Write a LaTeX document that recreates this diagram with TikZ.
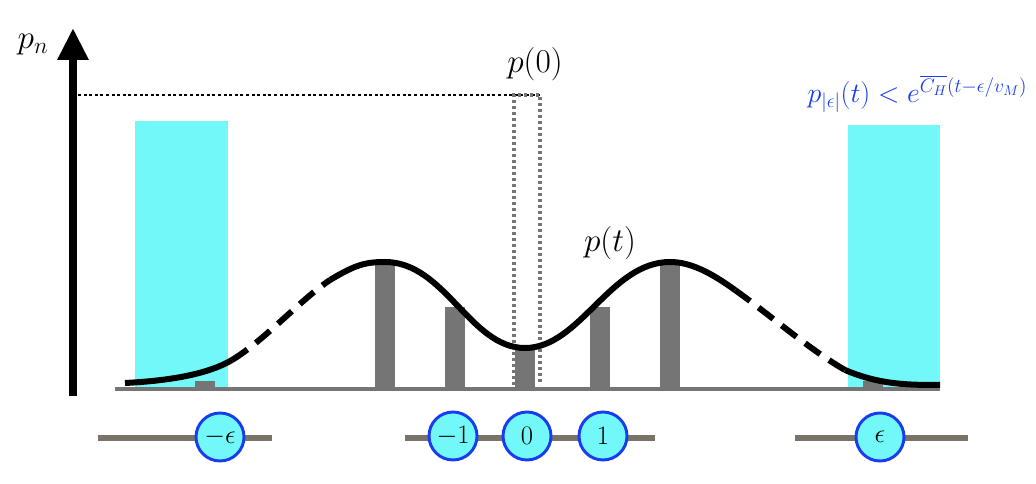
\RequirePackage{fix-cm}
\documentclass[tikz,border=0pt]{standalone}
\usepackage{amsmath}
\usetikzlibrary{arrows.meta}
\definecolor{cy}{HTML}{72F8F8}
\definecolor{bl}{HTML}{1A3CF0}
\definecolor{gr}{HTML}{757575}
\definecolor{ln}{HTML}{7A7468}
\begin{document}
\begin{tikzpicture}[x=0.75pt,y=-0.75pt,
  site/.style={circle,draw=bl,line width=2.2pt,fill=cy,minimum width=36pt,inner sep=0pt,font=\fontsize{20}{20}\selectfont},
  bar/.style={fill=gr},
  curve/.style={line width=4.5pt,black},
  lbl/.style={font=\fontsize{25}{25}\selectfont}]
\useasboundingbox (0,0) rectangle (1036,484);
% cyan regions
\fill[cy] (135,121) rectangle (228,388);
\fill[cy] (848,125) rectangle (940,388);
% bars
\foreach \a/\t in {375/262,445/307,515/345,590/307,660/262,195/381,863/381}
  \fill[gr] (\a,\t) rectangle ++(20,389-\t);
\draw[gr,line width=3pt] (115,389) -- (940,389);
% dotted
\coordinate (d0) at (78,95); \coordinate (d1) at (540,95);
\draw[black,dotted,line width=2.2pt] (d0) -- (d1);
\draw[gr,dotted,line width=2.5pt] (514,385) -- (514,95) -- (540,95) -- (540,385);
% axis
\coordinate (ax0) at (73,396); \coordinate (ax1) at (73,28);
\draw[line width=6pt,-{Triangle[length=24pt,width=22pt]}] (ax0) -- (ax1);
\node[lbl] (pn) at (33,45) {$p_n$};
\node[lbl] (p0) at (535,64) {$p(0)$};
\node[lbl] (pt) at (610,243) {$p(t)$};
\node[font=\fontsize{21}{21}\selectfont,text=bl,anchor=east] (bound) at (1032,94) {$p_{|\epsilon|}(t) < e^{\overline{C_H}(t-\epsilon/v_M)}$};
% curve
\draw[curve] (125,383) .. controls (185,380) and (215,370) .. (232,360);
\draw[curve,dash pattern=on 14pt off 8pt] (232,360) .. controls (265,340) and (300,300) .. (330,280);
\draw[curve] (330,280) .. controls (355,265) and (365,262) .. (385,262) .. controls (445,262) and (470,348) .. (525,348) .. controls (580,348) and (610,262) .. (670,262) .. controls (690,262) and (710,272) .. (735,290);
\draw[curve,dash pattern=on 14pt off 8pt] (735,290) .. controls (770,315) and (810,350) .. (845,370);
\draw[curve] (845,370) .. controls (880,385) and (910,385) .. (940,385);
% lattice
\draw[ln,line width=4.5pt] (98,438) -- (272,438);
\draw[ln,line width=4.5pt] (405,438) -- (655,438);
\draw[ln,line width=4.5pt] (795,438) -- (968,438);
\node[site] (me) at (220,437) {$-\epsilon$};
\node[site] (m1) at (453,436) {$-1$};
\node[site] (z) at (527,436) {$0$};
\node[site] (o1) at (603,436) {$1$};
\node[site] (e) at (880,437) {$\epsilon$};
\end{tikzpicture}
\end{document}
